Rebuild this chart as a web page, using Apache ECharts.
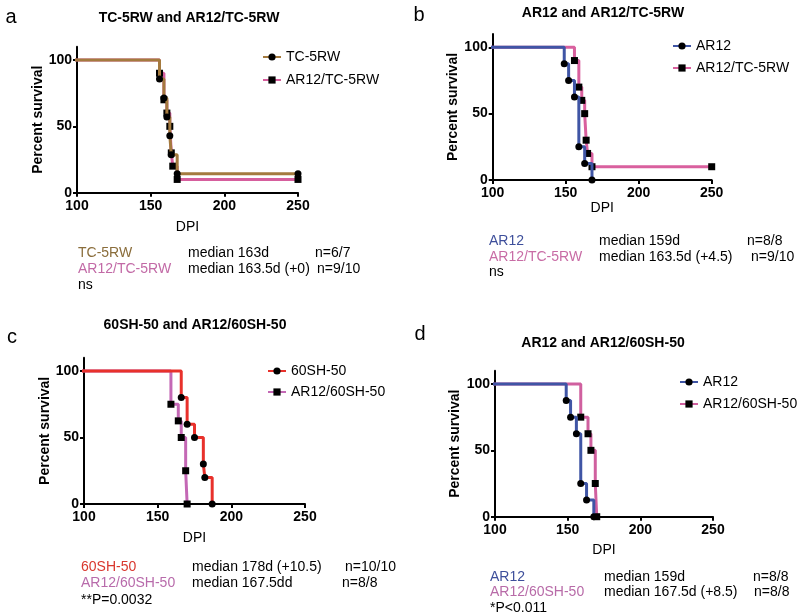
<!DOCTYPE html>
<html><head><meta charset="utf-8">
<script src="https://cdn.jsdelivr.net/npm/echarts@6/dist/echarts.min.js"></script>
<style>html,body{margin:0;padding:0;background:#fff}#c{width:800px;height:615px}</style>
</head><body><div id="c"></div>
<script>
// ---------- data ----------
const dpiTicks = [100, 150, 200, 250];
const survivalTicks = [0, 50, 100];

// Panel a
const aTitle = 'TC-5RW and AR12/TC-5RW';
const aNames = ['TC-5RW', 'AR12/TC-5RW'];
const aTC5RW_t = [0, 156, 159, 161, 163, 164, 168, 250];
const aTC5RW_s = [100, 85.7, 71.4, 57.1, 42.9, 28.6, 14.3, 14.3];
const aAR12TC_t = [0, 156, 159, 161, 163, 164, 165, 168, 250];
const aAR12TC_s = [100, 90, 70, 60, 50, 30, 20, 10, 10];
const aMedians = ['median 163d', 'median 163.5d (+0)'];
const aN = ['n=6/7', 'n=9/10'];
const aStat = 'ns';

// Panel b
const bTitle = 'AR12 and AR12/TC-5RW';
const bNames = ['AR12', 'AR12/TC-5RW'];
const bAR12_t = [0, 149, 152, 156, 159, 163, 168];
const bAR12_s = [100, 87.5, 75, 62.5, 25, 12.5, 0];
const bAR12TC_t = [0, 156, 159, 161, 163, 164, 165, 168, 250];
const bAR12TC_s = [100, 90, 70, 60, 50, 30, 20, 10, 10];
const bMedians = ['median 159d', 'median 163.5d (+4.5)'];
const bN = ['n=8/8', 'n=9/10'];
const bStat = 'ns';

// Panel c
const cTitle = '60SH-50 and AR12/60SH-50';
const cNames = ['60SH-50', 'AR12/60SH-50'];
const c60SH_t = [0, 166, 170, 175, 181, 182, 187];
const c60SH_s = [100, 80, 60, 50, 30, 20, 0];
const cAR1260SH_t = [0, 159, 164, 166, 169, 170];
const cAR1260SH_s = [100, 75, 62.5, 50, 25, 0];
const cMedians = ['median 178d (+10.5)', 'median 167.5dd'];
const cN = ['n=10/10', 'n=8/8'];
const cStat = '**P=0.0032';

// Panel d
const dTitle = 'AR12 and AR12/60SH-50';
const dNames = ['AR12', 'AR12/60SH-50'];
const dAR12_t = [0, 149, 152, 156, 159, 163, 168];
const dAR12_s = [100, 87.5, 75, 62.5, 25, 12.5, 0];
const dAR1260SH_t = [0, 159, 164, 166, 169, 170];
const dAR1260SH_s = [100, 75, 62.5, 50, 25, 0];
const dMedians = ['median 159d', 'median 167.5d (+8.5)'];
const dN = ['n=8/8', 'n=8/8'];
const dStat = '*P<0.011';

// ---------- layout / style ----------
const FONT = '"Liberation Sans", Arial, Helvetica, sans-serif';
const panels = [
  { key: 'a', letter: 'a', letterXY: [11, 17], title: aTitle, titleXY: [189, 18],
    grid: { left: 77, top: 46.7, width: 221, height: 146 },
    legend: { left: 262, top: 49, gap: 7 }, dpiGap: 27, yGap: 28,
    series: [ { name: aNames[0], t: aTC5RW_t, s: aTC5RW_s, color: '#a47a3e', symbol: 'circle' },
              { name: aNames[1], t: aAR12TC_t, s: aAR12TC_s, color: '#d65e9d', symbol: 'rect' } ],
    textColors: ['#8a6d3b', '#c26aa6'], names: aNames, medians: aMedians, ns: aN, stat: aStat,
    rowsY: [253, 269, 285], colX: [78, 188], nX: [315, 317] },
  { key: 'b', letter: 'b', letterXY: [419, 15], title: bTitle, titleXY: [603, 13],
    grid: { left: 492.7, top: 34, width: 219, height: 146 },
    legend: { left: 672, top: 38, gap: 6 }, dpiGap: 21, yGap: 33,
    series: [ { name: bNames[0], t: bAR12_t, s: bAR12_s, color: '#3f55a5', symbol: 'circle' },
              { name: bNames[1], t: bAR12TC_t, s: bAR12TC_s, color: '#d9609e', symbol: 'rect' } ],
    textColors: ['#3e4f9b', '#c86ca5'], names: bNames, medians: bMedians, ns: bN, stat: bStat,
    rowsY: [241, 257, 272], colX: [489, 599], nX: [747, 751] },
  { key: 'c', letter: 'c', letterXY: [12, 337], title: cTitle, titleXY: [195, 325],
    grid: { left: 84, top: 357.7, width: 221, height: 146.3 },
    legend: { left: 267, top: 363, gap: 5 }, dpiGap: 27, yGap: 32,
    series: [ { name: cNames[0], t: c60SH_t, s: c60SH_s, color: '#e8312b', symbol: 'circle' },
              { name: cNames[1], t: cAR1260SH_t, s: cAR1260SH_s, color: '#c468b5', symbol: 'rect' } ],
    textColors: ['#d9382f', '#b86bab'], names: cNames, medians: cMedians, ns: cN, stat: cStat,
    rowsY: [567, 583, 600], colX: [81, 192], nX: [345, 342] },
  { key: 'd', letter: 'd', letterXY: [420, 334], title: dTitle, titleXY: [603, 343],
    grid: { left: 495, top: 370.7, width: 218, height: 146 },
    legend: { left: 679, top: 374, gap: 6 }, dpiGap: 26, yGap: 33,
    series: [ { name: dNames[0], t: dAR12_t, s: dAR12_s, color: '#3f55a5', symbol: 'circle' },
              { name: dNames[1], t: dAR1260SH_t, s: dAR1260SH_s, color: '#d0609f', symbol: 'rect' } ],
    textColors: ['#3e4f9b', '#b86ba8'], names: dNames, medians: dMedians, ns: dN, stat: dStat,
    rowsY: [577, 592, 608], colX: [490, 604], nX: [753, 754] }
];

const grids = [], xAxes = [], yAxes = [], series = [], legends = [], graphics = [];

function txt(x, y, text, opt) {
  opt = opt || {};
  graphics.push({ type: 'text', x: x, y: y, silent: true,
    style: { text: text, fill: opt.color || '#000',
      font: (opt.weight || 'normal') + ' ' + (opt.size || 14) + 'px ' + FONT,
      align: opt.align || 'left', verticalAlign: 'middle' } });
}

panels.forEach((p, gi) => {
  grids.push(Object.assign({ containLabel: false }, p.grid));
  xAxes.push({ gridIndex: gi, type: 'value', min: dpiTicks[0], max: dpiTicks[dpiTicks.length - 1],
    interval: dpiTicks[1] - dpiTicks[0],
    name: 'DPI', nameLocation: 'middle', nameGap: p.dpiGap,
    nameTextStyle: { fontSize: 14, color: '#000', fontFamily: FONT },
    axisLine: { show: true, onZero: false, lineStyle: { color: '#000', width: 2 } },
    axisTick: { show: true, length: 4, lineStyle: { color: '#000', width: 2 } },
    axisLabel: { fontSize: 14, fontWeight: 'bold', color: '#000', fontFamily: FONT, margin: 6 },
    splitLine: { show: false } });
  yAxes.push({ gridIndex: gi, type: 'value', min: 0, max: 110,
    name: 'Percent survival', nameLocation: 'middle', nameGap: p.yGap,
    nameTextStyle: { fontSize: 14, fontWeight: 'bold', color: '#000', fontFamily: FONT },
    axisLine: { show: true, onZero: false, lineStyle: { color: '#000', width: 2 } },
    axisTick: { show: true, length: 4, customValues: survivalTicks, lineStyle: { color: '#000', width: 2 } },
    axisLabel: { fontSize: 14, fontWeight: 'bold', color: '#000', fontFamily: FONT, margin: 5, customValues: survivalTicks },
    splitLine: { show: false } });
  // draw second group first so the first group's line is on top
  [p.series[1], p.series[0]].forEach((s, k) => {
    series.push({ type: 'line', name: p.key + '::' + s.name, xAxisIndex: gi, yAxisIndex: gi,
      step: 'end', symbol: s.symbol, symbolSize: 7, showSymbol: true, showAllSymbol: true,
      clip: true, animation: false, z: 2 + k,
      lineStyle: { color: s.color, width: 3 }, itemStyle: { color: '#000' },
      emphasis: { disabled: true },
      data: s.t.map((t, i) => i === 0 ? { value: [t, s.s[i]], symbol: 'none' } : [t, s.s[i]]) });
  });
  legends.push({ data: p.series.map(s => p.key + '::' + s.name), orient: 'vertical',
    left: p.legend.left, top: p.legend.top, itemGap: p.legend.gap, padding: 0,
    itemWidth: 18, itemHeight: 9, selectedMode: false,
    formatter: n => n.split('::')[1],
    textStyle: { fontSize: 14, color: '#000', fontFamily: FONT, lineHeight: 16 } });

  txt(p.letterXY[0], p.letterXY[1], p.letter, { size: 20, align: 'center' });
  txt(p.titleXY[0], p.titleXY[1], p.title, { weight: 'bold', size: 14, align: 'center' });
  for (let r = 0; r < 2; r++) {
    txt(p.colX[0], p.rowsY[r], p.names[r], { color: p.textColors[r] });
    txt(p.colX[1], p.rowsY[r], p.medians[r]);
    txt(p.nX[r], p.rowsY[r], p.ns[r]);
  }
  txt(p.colX[0], p.rowsY[2], p.stat);
});

const chart = echarts.init(document.getElementById('c'), null, { renderer: 'canvas' });
chart.setOption({
  backgroundColor: '#fff', animation: false,
  grid: grids, xAxis: xAxes, yAxis: yAxes, series: series, legend: legends,
  graphic: graphics, tooltip: { show: false }
});
</script></body></html>
